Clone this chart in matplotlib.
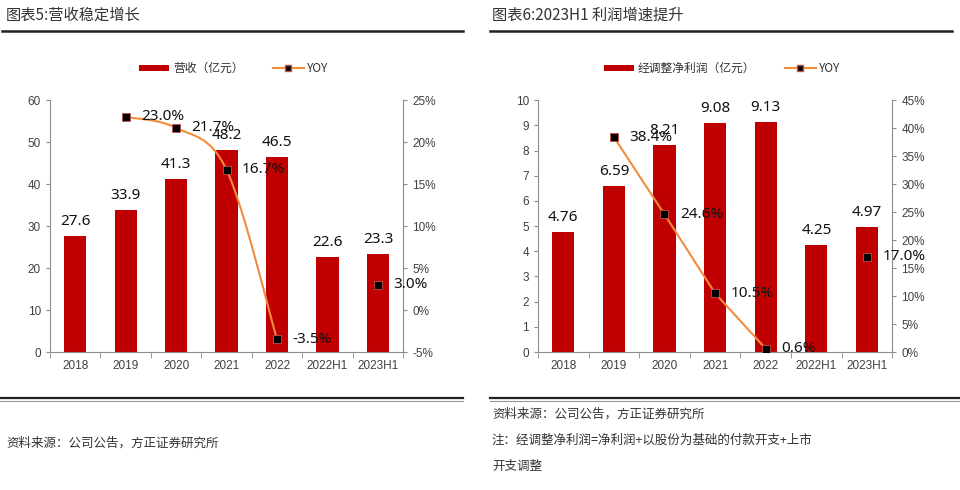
import matplotlib
matplotlib.use("Agg")
import matplotlib.pyplot as plt
import numpy as np
from matplotlib.path import Path
from matplotlib.patches import PathPatch, Patch
from matplotlib.lines import Line2D

# ── Data ───────────────────────────────────────────────────────────
years = ["2018", "2019", "2020", "2021", "2022", "2022H1", "2023H1"]

revenue = [27.6, 33.9, 41.3, 48.2, 46.5, 22.6, 23.3]
rev_yoy_idx = [1, 2, 3, 4]
rev_yoy = [23.0, 21.7, 16.7, -3.5]
rev_h1_yoy = 3.0

profit = [4.76, 6.59, 8.21, 9.08, 9.13, 4.25, 4.97]
prof_yoy_idx = [1, 2, 3, 4]
prof_yoy = [38.4, 24.6, 10.5, 0.6]
prof_h1_yoy = 17.0

# ── Style ──────────────────────────────────────────────────────────
CJK = ["Noto Sans CJK SC", "DejaVu Sans"]
RED = "#C00000"
ORANGE = "#F28C3C"
AXIS = "#8C8C8C"
TICK = "#404040"
plt.rcParams["font.family"] = ["Liberation Sans", "Noto Sans CJK SC"]

fig = plt.figure(figsize=(9.6, 4.9), dpi=100)


def smooth_path(xs, ys):
    # Excel-style smoothed line: cubic Bezier through the points
    pts = np.column_stack([xs, ys]).astype(float)
    n = len(pts)
    verts = [pts[0]]
    codes = [Path.MOVETO]
    for i in range(n - 1):
        p0 = pts[i - 1] if i > 0 else pts[i]
        p1, p2 = pts[i], pts[i + 1]
        p3 = pts[i + 2] if i + 2 < n else pts[i + 1]
        c1 = p1 + (p2 - p0) / 6
        c2 = p2 - (p3 - p1) / 6
        verts += [c1, c2, p2]
        codes += [Path.CURVE4] * 3
    return Path(verts, codes)


def panel(rect, values, ylim, ystep, yoy_idx, yoy, h1_yoy, pct_lim, pct_step,
          fmt, legend_label, smooth):
    ax = fig.add_axes(rect)
    x = np.arange(len(years))
    bars = ax.bar(x, values, width=0.44, color=RED, zorder=2)
    for b, v in zip(bars, values):
        ax.annotate(fmt.format(v), (b.get_x() + b.get_width() / 2, v),
                    xytext=(0, 5), textcoords="offset points",
                    ha="center", va="bottom", fontsize=11, color="#111111",
                    family=["Noto Sans", "DejaVu Sans"], zorder=5)
    ax.set_xlim(-0.5, len(years) - 0.5)
    ax.set_ylim(*ylim)
    ax.set_yticks(np.arange(ylim[0], ylim[1] + ystep / 2, ystep))
    ax.set_xticks(x)
    ax.set_xticklabels(years)
    ax.set_xticks(np.arange(-0.5, len(years), 1), minor=True)
    ax.tick_params(axis="x", which="major", length=0, pad=6,
                   labelsize=8.5, labelcolor=TICK)
    ax.tick_params(axis="x", which="minor", length=4, color=AXIS)
    ax.tick_params(axis="y", length=3, color=AXIS, labelsize=8.5,
                   labelcolor=TICK)
    for s in ["top", "right"]:
        ax.spines[s].set_visible(False)
    for s in ["left", "bottom"]:
        ax.spines[s].set_color(AXIS)

    ax2 = ax.twinx()
    ax2.set_ylim(*pct_lim)
    ax2.set_yticks(np.arange(pct_lim[0], pct_lim[1] + pct_step / 2, pct_step))
    ax2.set_yticklabels([f"{t:.0f}%" for t in ax2.get_yticks()])
    ax2.tick_params(axis="y", length=3, color=AXIS, labelsize=8.5,
                    labelcolor=TICK)
    for s in ["top", "left", "bottom"]:
        ax2.spines[s].set_visible(False)
    ax2.spines["right"].set_color(AXIS)

    if smooth:
        ax2.add_patch(PathPatch(smooth_path(yoy_idx, yoy), fill=False,
                                edgecolor=ORANGE, lw=1.5, zorder=3))
    else:
        ax2.plot(yoy_idx, yoy, color=ORANGE, lw=1.5, zorder=3)
    mx = yoy_idx + [len(years) - 1]
    my = yoy + [h1_yoy]
    ax2.plot(mx, my, ls="none", marker="s", ms=6, mfc="black",
             mec="#C0504D", mew=0.6, zorder=4)
    for xi, yi in zip(mx, my):
        ax2.annotate(f"{yi:.1f}%", (xi, yi), xytext=(11, 0),
                     textcoords="offset points", ha="left", va="center",
                     fontsize=11, color="#111111",
                     family=["Noto Sans", "DejaVu Sans"], zorder=5)

    handles = [Patch(facecolor=RED, label=legend_label),
               Line2D([], [], color=ORANGE, lw=1.5, marker="s", ms=5,
                      mfc="black", mec="#C0504D", label="YOY")]
    leg = ax.legend(handles=handles, loc="center",
                    bbox_to_anchor=(0.52, 1.125), ncol=2, frameon=False,
                    handlelength=2.6, handleheight=0.45, columnspacing=2.5,
                    handletextpad=0.3, fontsize=8.5)
    for t in leg.get_texts():
        t.set_family(CJK)
        t.set_color("#333333")
    return ax


panel([0.052, 0.2816, 0.368, 0.514], revenue, (0, 60), 10,
      rev_yoy_idx, rev_yoy, rev_h1_yoy, (-5, 25), 5, "{:.1f}",
      "营收（亿元）", smooth=True)
panel([0.5604, 0.2816, 0.369, 0.514], profit, (0, 10), 1,
      prof_yoy_idx, prof_yoy, prof_h1_yoy, (0, 45), 5, "{:.2f}",
      "经调整净利润（亿元）", smooth=False)

# ── Titles, rules and notes ────────────────────────────────────────
H = 490.0
fig.text(6 / 960, 1 - 15 / H, "图表5:营收稳定增长", family=CJK,
         fontsize=11, fontweight="medium", color="#333333",
         va="center", ha="left")
fig.text(492 / 960, 1 - 15 / H, "图表6:2023H1 利润增速提升", family=CJK,
         fontsize=11, fontweight="medium", color="#333333",
         va="center", ha="left")

for x0, x1 in [(2, 463), (490, 952)]:
    fig.add_artist(Line2D([x0 / 960, x1 / 960], [1 - 31 / H] * 2,
                          color="#222222", lw=1.8))
for x0, x1 in [(0, 463), (490, 960)]:
    fig.add_artist(Line2D([x0 / 960, x1 / 960], [1 - 398 / H] * 2,
                          color="#222222", lw=1.6))
    fig.add_artist(Line2D([x0 / 960, x1 / 960], [1 - 401 / H] * 2,
                          color="#999999", lw=0.8))

fig.text(6 / 960, 1 - 443 / H, "资料来源：公司公告，方正证券研究所", family=CJK,
         fontsize=9, color="#333333", va="center", ha="left")
fig.text(492 / 960, 1 - 414 / H, "资料来源：公司公告，方正证券研究所", family=CJK,
         fontsize=9, color="#333333", va="center", ha="left")
fig.text(492 / 960, 1 - 440 / H,
         "注：经调整净利润=净利润+以股份为基础的付款开支+上市", family=CJK,
         fontsize=9, color="#333333", va="center", ha="left")
fig.text(492 / 960, 1 - 466 / H, "开支调整", family=CJK,
         fontsize=9, color="#333333", va="center", ha="left")

fig.savefig("out.png", dpi=100)
